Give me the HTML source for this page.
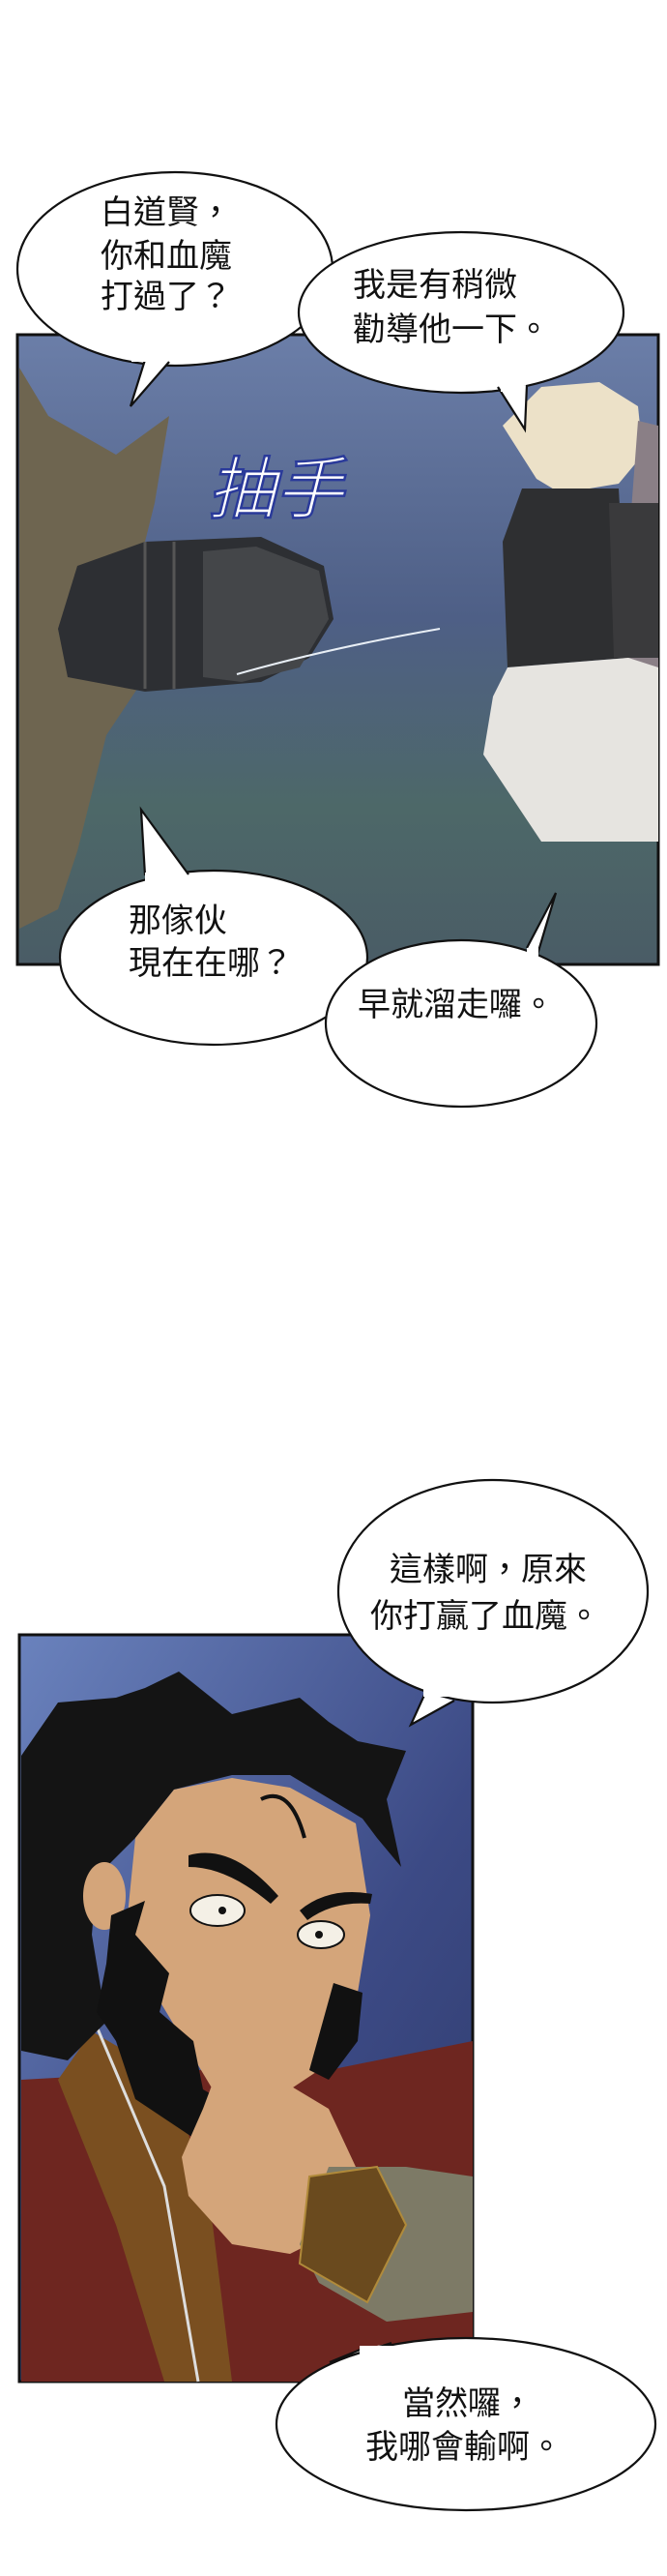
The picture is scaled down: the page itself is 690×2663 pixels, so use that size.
<!DOCTYPE html>
<html><head><meta charset="utf-8"><style>
html,body{margin:0;padding:0;background:#fff;}
svg{display:block;}
text{font-family:"Liberation Sans","Noto Sans CJK TC",sans-serif;fill:#111;}
</style></head><body>
<svg width="690" height="2663" viewBox="0 0 690 2663" xmlns="http://www.w3.org/2000/svg">
<defs>
<linearGradient id="g1" x1="0" y1="0" x2="0" y2="1">
<stop offset="0" stop-color="#6b7ea8"/><stop offset="0.45" stop-color="#4e5f86"/><stop offset="0.75" stop-color="#4d6868"/><stop offset="1" stop-color="#4a5c66"/>
</linearGradient>
<linearGradient id="g2" x1="0" y1="0" x2="1" y2="1">
<stop offset="0" stop-color="#6a82bd"/><stop offset="0.6" stop-color="#3c4a85"/><stop offset="1" stop-color="#2e3a6a"/>
</linearGradient>
</defs>

<!-- PANEL 1 -->
<rect x="18" y="346" width="663" height="651" fill="url(#g1)" stroke="#111" stroke-width="3"/>
<path d="M20,380 L50,430 L120,470 L175,430 L160,520 L140,600 L150,700 L110,760 L80,880 L60,940 L20,960 Z" fill="#6e6550"/>
<path d="M80,585 L150,560 L270,555 L335,585 L345,640 L320,680 L270,705 L150,715 L70,700 L60,650 Z" fill="#2d2f33"/>
<path d="M210,570 L265,565 L330,590 L340,640 L310,690 L250,705 L210,700 Z" fill="#444649"/>
<path d="M150,560 L150,712 M180,560 L180,712" stroke="#555" stroke-width="3"/>
<path d="M245,697 Q340,670 455,650" stroke="#e8eef5" stroke-width="2" fill="none"/>
<path d="M520,440 L560,400 L620,395 L660,420 L665,470 L640,500 L580,510 L555,495 Z" fill="#ece1c8"/>
<path d="M660,435 L681,440 L681,700 L640,700 Z" fill="#8a7f86"/>
<path d="M540,505 L640,505 L650,680 L525,690 L520,560 Z" fill="#2e2f31"/>
<path d="M630,520 L681,520 L681,680 L635,680 Z" fill="#3a3a3c"/>
<path d="M525,690 L650,680 L681,690 L681,870 L560,870 L500,780 L510,720 Z" fill="#e6e4e0"/>
<text x="215" y="530" font-size="70" font-style="italic" style="fill:#fff;stroke:#2a3a9a;stroke-width:2.5px">抽手</text>

<g fill="#fff" stroke="#111" stroke-width="2.2">
<ellipse cx="181" cy="278" rx="163" ry="100"/>
<path d="M150,372 L135,420 L175,374" />
<ellipse cx="477" cy="323" rx="168" ry="83"/>
<path d="M515,400 L543,444 L545,398"/>
<ellipse cx="221" cy="990" rx="159" ry="90"/>
<path d="M150,905 L146,837 L195,904"/>
<ellipse cx="477" cy="1058" rx="140" ry="86"/>
<path d="M545,980 L575,923 L555,990"/>
</g>
<g fill="#fff">
<rect x="136" y="360" width="36" height="14"/>
<rect x="518" y="393" width="24" height="12"/>
<rect x="150" y="902" width="42" height="10"/>
<rect x="545" y="980" width="12" height="14"/>
</g>
<g font-size="34">
<text x="104" y="231">白道賢，</text>
<text x="104" y="276">你和血魔</text>
<text x="104" y="318">打過了？</text>
<text x="365" y="306">我是有稍微</text>
<text x="365" y="352">勸導他一下。</text>
<text x="133" y="963">那傢伙</text>
<text x="133" y="1007">現在在哪？</text>
<text x="370" y="1050">早就溜走囉。</text>
</g>

<!-- PANEL 2 -->
<rect x="20" y="1690" width="469" height="772" fill="url(#g2)" stroke="#111" stroke-width="3"/>
<path d="M22,2150 L200,2140 L340,2140 L489,2110 L489,2462 L22,2462 Z" fill="#6e2620"/>
<path d="M60,2150 L95,2100 L180,2150 L220,2300 L240,2462 L170,2462 L120,2300 Z" fill="#7a4f20"/>
<path d="M100,2095 L170,2260 L205,2462" stroke="#ddd" stroke-width="3" fill="none"/>
<path d="M22,1815 L60,1760 L120,1755 L150,1745 L185,1728 L240,1772 L310,1755 L340,1780 L370,1800 L420,1810 L400,1860 L415,1930 L390,1900 L375,1880 L300,1835 L240,1835 L180,1850 L140,1900 L100,1940 L95,2000 L110,2090 L70,2130 L22,2120 Z" fill="#141414"/>
<path d="M180,1850 L240,1838 L300,1848 L368,1885 L383,1980 L370,2060 L330,2140 L270,2180 L220,2160 L160,2060 L130,2000 L140,1900 Z" fill="#d4a57a"/>
<ellipse cx="108" cy="1960" rx="22" ry="35" fill="#d4a57a"/>
<path d="M115,1980 L150,1965 L140,2000 L175,2040 L165,2080 L200,2110 L210,2160 L245,2180 L230,2200 L200,2210 L170,2190 L140,2170 L120,2110 L100,2080 L110,2030 Z" fill="#111"/>
<path d="M345,2050 L375,2060 L370,2110 L340,2150 L320,2140 Z" fill="#111"/>
<path d="M195,1918 Q240,1905 288,1960 L280,1968 Q235,1930 195,1930 Z" fill="#111"/>
<path d="M310,1975 Q340,1950 385,1958 L383,1968 Q345,1965 318,1985 Z" fill="#111"/>
<path d="M270,1860 Q300,1845 315,1900" stroke="#111" stroke-width="4" fill="none"/>
<ellipse cx="225" cy="1975" rx="28" ry="16" fill="#f4f0e6" stroke="#111" stroke-width="2"/>
<circle cx="230" cy="1975" r="4" fill="#111"/>
<ellipse cx="332" cy="2000" rx="24" ry="14" fill="#f4f0e6" stroke="#111" stroke-width="2"/>
<circle cx="330" cy="2000" r="4" fill="#111"/>
<path d="M225,2140 L290,2150 L340,2180 L368,2240 L360,2300 L300,2330 L240,2320 L195,2270 L188,2230 L210,2180 Z" fill="#d4a57a"/>
<path d="M340,2240 L420,2240 L489,2250 L489,2390 L400,2400 L330,2360 L310,2320 Z" fill="#7d7a66"/>
<path d="M320,2250 L390,2240 L420,2300 L380,2380 L310,2340 Z" fill="#6a4a1e" stroke="#b08a3a" stroke-width="2"/>

<g fill="#fff" stroke="#111" stroke-width="2.2">
<ellipse cx="510" cy="1645" rx="160" ry="115"/>
<path d="M440,1750 L425,1783 L470,1758"/>
<ellipse cx="482" cy="2506" rx="196" ry="89"/>
<path d="M375,2428 L341,2442 L405,2422"/>
</g>
<g fill="#fff">
<rect x="438" y="1742" width="34" height="12"/>
<rect x="372" y="2425" width="36" height="14"/>
</g>
<g font-size="34">
<text x="403" y="1634">這樣啊，原來</text>
<text x="383" y="1682">你打贏了血魔。</text>
<text x="416" y="2496">當然囉，</text>
<text x="378" y="2541">我哪會輸啊。</text>
</g>
</svg>
</body></html>
